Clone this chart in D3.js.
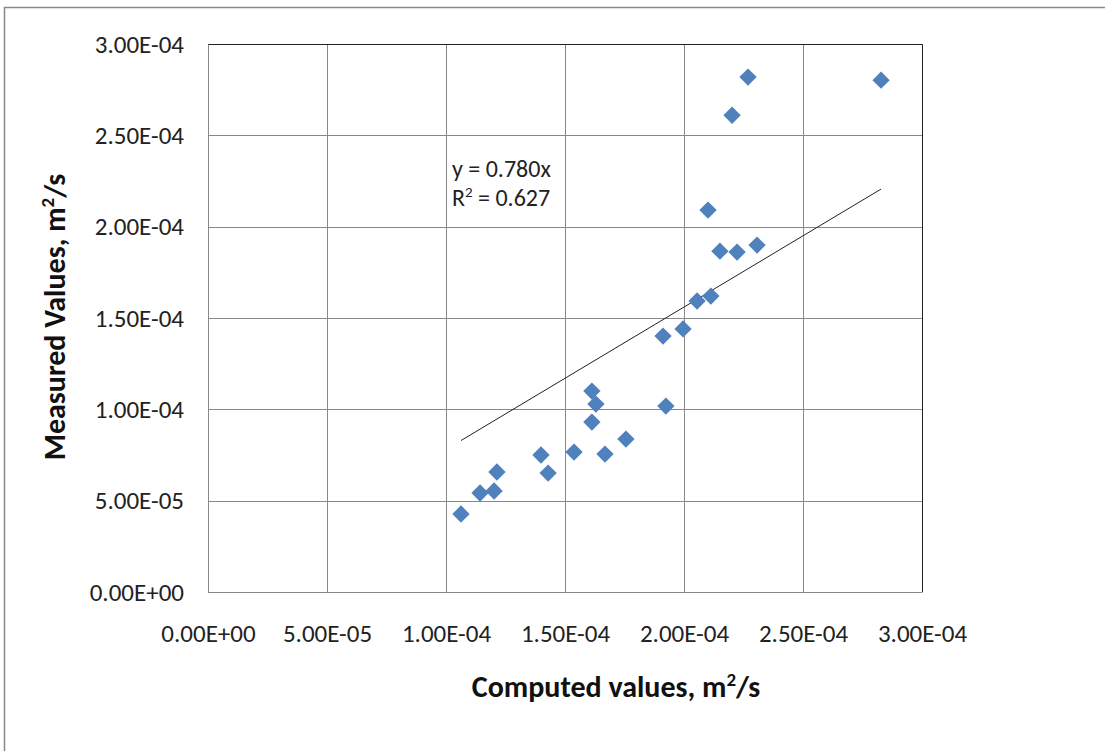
<!DOCTYPE html>
<html>
<head>
<meta charset="utf-8">
<script src="https://cdn.jsdelivr.net/npm/d3@7"></script>
<style>
  body { margin: 0; background: #fff; }
  svg { display: block; }
  text { font-family: Carlito, Calibri, Lato, sans-serif; }
</style>
</head>
<body>
<svg id="chart" width="1105" height="751"></svg>
<script>
// computed (x) vs measured (y), m2/s
const computed = [1.063e-4, 1.143e-4, 1.202e-4, 1.214e-4, 1.399e-4, 1.429e-4, 1.538e-4, 1.668e-4,
  1.613e-4, 1.630e-4, 1.613e-4, 1.756e-4, 1.924e-4, 1.912e-4, 1.996e-4, 2.055e-4, 2.113e-4,
  2.151e-4, 2.223e-4, 2.307e-4, 2.101e-4, 2.202e-4, 2.269e-4, 2.828e-4];
const measured = [4.27e-5, 5.42e-5, 5.53e-5, 6.57e-5, 7.50e-5, 6.51e-5, 7.66e-5, 7.55e-5,
  9.30e-5, 1.029e-4, 1.100e-4, 8.37e-5, 1.018e-4, 1.401e-4, 1.440e-4, 1.593e-4, 1.620e-4,
  1.866e-4, 1.861e-4, 1.899e-4, 2.091e-4, 2.610e-4, 2.819e-4, 2.802e-4];
const xTicks = [0, 5e-5, 1e-4, 1.5e-4, 2e-4, 2.5e-4, 3e-4];
const yTicks = [0, 5e-5, 1e-4, 1.5e-4, 2e-4, 2.5e-4, 3e-4];
const slope = 0.780;
const r2 = 0.627;

const points = computed.map((c, i) => ({x: c, y: measured[i]}));

const svg = d3.select("#chart");
const pLeft = 208, pRight = 922, pTop = 44, pBottom = 592;
const font = 'Carlito, Calibri, Lato, sans-serif';

const x = d3.scaleLinear().domain([0, 3e-4]).range([pLeft, pRight]);
const y = d3.scaleLinear().domain([0, 3e-4]).range([pBottom, pTop]);

function sci(d) {
  const [m, e] = d.toExponential(2).split("e");
  return m + "E" + e[0] + e.slice(1).padStart(2, "0");
}

// outer frame (chart area border, cut off at right/bottom)
svg.append("path")
    .attr("d", "M4.5,751 L4.5,7.5 L1105,7.5")
    .attr("fill", "none")
    .attr("stroke", "#888")
    .attr("stroke-width", 1.5);

// gridlines
svg.append("g")
    .attr("stroke", "#888")
    .attr("stroke-width", 1)
  .selectAll("line")
  .data(xTicks)
  .join("line")
    .attr("x1", d => Math.round(x(d)) + 0.5)
    .attr("x2", d => Math.round(x(d)) + 0.5)
    .attr("y1", pTop)
    .attr("y2", pBottom);

svg.append("g")
    .attr("stroke", "#888")
    .attr("stroke-width", 1)
  .selectAll("line")
  .data(yTicks)
  .join("line")
    .attr("x1", pLeft)
    .attr("x2", pRight)
    .attr("y1", d => Math.round(y(d)) + 0.5)
    .attr("y2", d => Math.round(y(d)) + 0.5);

// plot area border (top, right darker)
svg.append("path")
    .attr("d", `M${pLeft},${pTop + 0.5} L${pRight + 0.5},${pTop + 0.5} L${pRight + 0.5},${pBottom}`)
    .attr("fill", "none")
    .attr("stroke", "#222")
    .attr("stroke-width", 1);

// axes
const xAxis = d3.axisBottom(x).tickValues(xTicks).tickFormat(sci).tickSize(0).tickPadding(32);
const yAxis = d3.axisLeft(y).tickValues(yTicks).tickFormat(sci).tickSize(0).tickPadding(24);

const gx = svg.append("g").attr("transform", `translate(0,${pBottom})`).call(xAxis);
const gy = svg.append("g").attr("transform", `translate(${pLeft},0)`).call(yAxis);
[gx, gy].forEach(g => {
  g.select(".domain").attr("stroke", "#888");
  g.selectAll("text").attr("font-size", 25).attr("fill", "#222").style("font-family", font);
});

// trendline through origin
const xs = d3.extent(computed);
svg.append("line")
    .attr("x1", x(xs[0])).attr("y1", y(slope * xs[0]))
    .attr("x2", x(xs[1])).attr("y2", y(slope * xs[1]))
    .attr("stroke", "#222")
    .attr("stroke-width", 1);

// markers
const diamond = d3.symbol(d3.symbolSquare, 150)();
svg.append("g")
  .selectAll("path")
  .data(points)
  .join("path")
    .attr("d", diamond)
    .attr("fill", "#4f81bd")
    .attr("transform", d => `translate(${x(d.x)},${y(d.y)}) rotate(45)`);

// equation label
const eq = svg.append("text").attr("x", 452).attr("y", 177).attr("font-size", 24).attr("fill", "#222");
eq.text(`y = ${slope.toFixed(3)}x`);
const rt = svg.append("text").attr("x", 452).attr("y", 206).attr("font-size", 24).attr("fill", "#222");
rt.append("tspan").text("R");
rt.append("tspan").attr("font-size", 15).attr("dy", -9).text("2");
rt.append("tspan").attr("dy", 9).text(` = ${r2.toFixed(3)}`);

// axis titles
const xt = svg.append("text")
    .attr("x", 616).attr("y", 697)
    .attr("text-anchor", "middle")
    .attr("font-size", 30).attr("font-weight", "bold").attr("fill", "#111");
xt.append("tspan").text("Computed values, m");
xt.append("tspan").attr("font-size", 19).attr("dy", -11).text("2");
xt.append("tspan").attr("dy", 11).text("/s");

const yt = svg.append("text")
    .attr("transform", "translate(65,317) rotate(-90)")
    .attr("text-anchor", "middle")
    .attr("font-size", 30).attr("font-weight", "bold").attr("fill", "#111");
yt.append("tspan").text("Measured Values, m");
yt.append("tspan").attr("font-size", 19).attr("dy", -11).text("2");
yt.append("tspan").attr("dy", 11).text("/s");
</script>
</body>
</html>
